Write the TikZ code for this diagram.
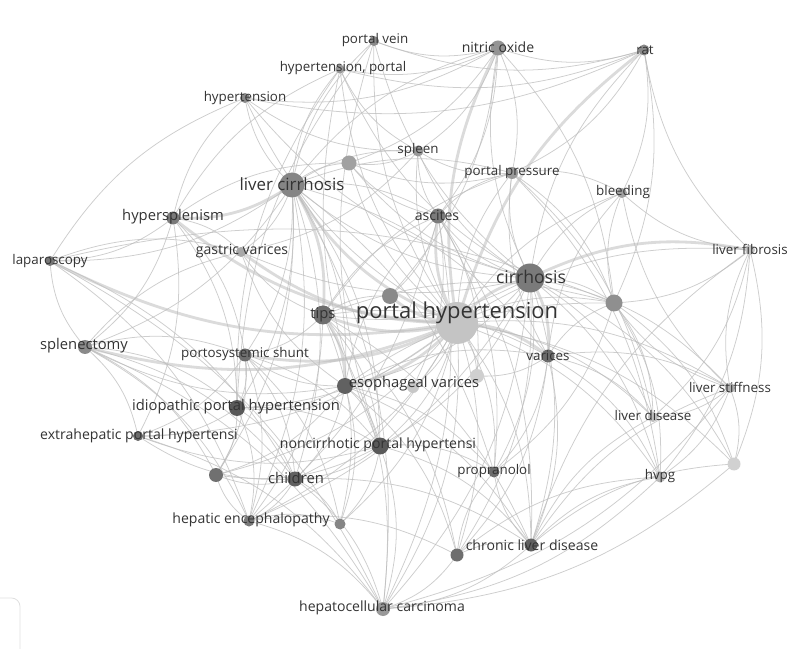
\documentclass[tikz,border=0pt]{standalone}
\usepackage{fontspec}
\setmainfont{Open Sans}
\usetikzlibrary{backgrounds}
\definecolor{ctext}{HTML}{333333}
\definecolor{clink}{HTML}{BDBDBD}
\tikzset{
  every picture/.style={x=0.025cm, y=-0.025cm},
  dot/.style={circle, fill=black!#1, draw=none, inner sep=0pt},
  word/.style={text=ctext, inner sep=0pt, font=\fontsize{#1}{#1}\selectfont},
  word/.default=9.5,
  link/.style={draw=clink, line width=0.55pt, bend left=18, opacity=0.75},
  heavy/.style={link, line width=2pt, opacity=0.55},
}
\begin{document}
\begin{tikzpicture}
  \useasboundingbox (0,0) rectangle (790,649);
  % keyword circles
  \foreach \n/\x/\y/\d/\g in {
    ph/457/323/42/23, cir/530/278/29/52, lcir/292/185/25/48, tips/323/315/19/57,
    u1/390/296/16/46, ev/345/386/16/62, u2/477/376/14/19, u3/413/387/12/22,
    var/548/356/13/58, u4/614/303/17/44, asc/438/216/15/52, spl/418/151/11/40,
    pp/512/173/12/40, bld/622/193/10/37, no/498/48/15/42, rat/644/50/11/46,
    pv/374/41/10/46, hp/340/69/9/40, hyp/245/98/10/46, u5/349/163/15/37,
    hsp/173/218/13/52, gv/241/252/10/34, lap/50/261/10/53, lfib/750/250/10/23,
    splx/85/347/14/46, pss/245/355/13/57, iph/237/408/16/65, ehpt/138/436/10/58,
    ncph/380/446/17/65, u6/216/475/14/56, chd/295/479/15/62, he/249/521/11/52,
    u7/340/524/11/48, prop/494/472/11/58, cld/531/545/13/62, u8/457/555/13/57,
    hcc/383/609/14/40, lstf/730/388/10/31, ld/653/417/10/26, hvpg/660/477/11/28,
    u9/734/464/13/18}
    \node[dot=\g, minimum size=\d*0.025cm] (\n) at (\x,\y) {};
  % keyword labels
  \foreach \n/\t/\x/\y/\s in {
    ph/{portal hypertension}/457/313/15.6, cir/cirrhosis/531/277/12.5,
    lcir/{liver cirrhosis}/292/184/12, tips/tips/323/315/10.5,
    ev/{esophageal varices}/414/384/10.5, var/varices/548/356/9.5,
    asc/ascites/437/215/10, spl/spleen/418/150/9.5,
    pp/{portal pressure}/512/172/9.5, bld/bleeding/623/192/9.5,
    no/{nitric oxide}/498/47/10, rat/rat/645/50/9.5,
    pv/{portal vein}/375/40/9.5, hp/{hypertension, portal}/343/68/9.5,
    hyp/hypertension/245/98/9.5, hsp/hypersplenism/173/217/10.5,
    gv/{gastric varices}/242/251/10, lap/laparoscopy/50/261/9.5,
    lfib/{liver fibrosis}/750/249/9.5, splx/splenectomy/84/346/10.5,
    pss/{portosystemic shunt}/245/354/9.5, iph/{idiopathic portal hypertension}/236/407/10.5,
    ehpt/{extrahepatic portal hypertensi}/139/436/10, ncph/{noncirrhotic portal hypertensi}/378/445/10,
    chd/children/296/478/10.5, he/{hepatic encephalopathy}/251/520/10,
    prop/propranolol/494/471/9.5, cld/{chronic liver disease}/532/545/10,
    hcc/{hepatocellular carcinoma}/382/608/10, lstf/{liver stiffness}/730/387/9.5,
    ld/{liver disease}/653/415/9.5, hvpg/hvpg/660/476/9.5}
    \node[word=\s] (\n-t) at (\x,\y) {\t};
  % co-occurrence links
  \begin{scope}[on background layer]
    \foreach \a/\b in {ph/lcir, ph/cir, ph/tips, ph/lap, ph/splx, ph/hsp, ph/ev,
      ph/u1, ph/asc, ph/no, ph/rat, lcir/hsp, tips/ev, ph/var, ph/gv, ph/pss,
      lcir/tips, cir/var, cir/lfib}
      \draw[heavy] (\a.center) to (\b.center);
    \foreach \a/\b in {
      ph/u2, ph/u3, ph/u4, ph/spl, ph/pp, ph/bld, ph/pv, ph/hp, ph/hyp, ph/u5,
      ph/lfib, ph/iph, ph/ehpt, ph/ncph, ph/u6, ph/chd, ph/he, ph/u7, ph/prop,
      ph/cld, ph/u8, ph/hcc, ph/lstf, ph/ld, ph/hvpg, ph/u9,
      cir/lcir, cir/tips, cir/ev, cir/asc, cir/pp, cir/bld, cir/no,
      cir/rat, cir/u4, cir/lstf, cir/ld, cir/hvpg, cir/u9, cir/prop,
      cir/cld, cir/hcc, cir/u8, cir/he, cir/ncph, cir/spl, cir/u5, cir/hyp,
      cir/pv, cir/hp, cir/gv,
      lcir/ev, lcir/asc, lcir/gv, lcir/splx, lcir/pss, lcir/hyp,
      lcir/hp, lcir/pv, lcir/spl, lcir/u5, lcir/no, lcir/pp, lcir/var, lcir/iph,
      lcir/chd, lcir/ncph, lcir/u6, lcir/he, lcir/lap, lcir/hcc, lcir/prop,
      tips/asc, tips/var, tips/gv, tips/pss, tips/he, tips/ncph, tips/u1,
      tips/u4, tips/u7, tips/hcc, tips/cld, tips/u8, tips/pp,
      ev/var, ev/gv, ev/prop, ev/chd, ev/ncph, ev/iph, ev/u6, ev/u7, ev/u8,
      ev/cld, ev/pss, ev/splx, ev/asc, ev/u4,
      var/prop, var/cld, var/u8, var/bld, var/pp, var/ld, var/hvpg, var/lstf,
      var/u4, var/u2,
      hsp/splx, hsp/lap, hsp/gv, hsp/hyp, hsp/hp, hsp/u5, hsp/pss, hsp/iph, hsp/ehpt,
      splx/lap, splx/gv, splx/pss, splx/iph, splx/ehpt, splx/u6, splx/he,
      splx/hcc, splx/chd,
      lap/hyp, lap/gv, lap/u4, lap/hcc, lap/he, lap/chd,
      pss/iph, pss/ehpt, pss/u6, pss/chd, pss/he, pss/ncph, pss/u7,
      iph/ehpt, iph/ncph, iph/u6, iph/chd, iph/he, iph/hp, iph/pv,
      ncph/chd, ncph/u6, ncph/u7, ncph/ehpt, ncph/hcc, ncph/pv, ncph/hp,
      ncph/prop, ncph/cld,
      chd/u6, chd/he, chd/u7, chd/ehpt, chd/hcc, chd/cld,
      he/u7, he/hcc, he/u6, he/u8, ehpt/hcc,
      u8/cld, u8/prop, u8/hcc, u8/hvpg,
      cld/prop, cld/hvpg, cld/u9, cld/ld, cld/lstf, cld/hcc, cld/lfib,
      lstf/lfib, lstf/ld, lstf/hvpg, lstf/u9, lstf/u4, lstf/bld, lstf/hcc,
      lfib/rat, lfib/u4, lfib/ld, lfib/hvpg, lfib/u9, lfib/bld,
      rat/no, rat/u4, rat/pp, rat/bld, rat/pv, rat/hp, rat/hyp,
      no/pv, no/hp, no/u5, no/pp, no/asc, no/spl, no/u1, no/u4, no/hyp,
      asc/u5, asc/spl, asc/pp, asc/u1, asc/u2, asc/prop, asc/cld, asc/he,
      asc/hcc, asc/u3,
      pp/bld, pp/u4, pp/spl, pp/u5, pp/hvpg, pp/ld,
      spl/u5, spl/hyp, spl/hp, spl/gv,
      u4/bld, u4/ld, u4/hvpg, u4/u9, u4/prop, u9/hcc, hvpg/hcc}
      \draw[link] (\a.center) to (\b.center);
  \end{scope}
  % cut-off panel at the lower left
  \draw[black!12, line width=0.6pt, rounded corners=6pt] (-20,598) rectangle (20,662);
\end{tikzpicture}
\end{document}
